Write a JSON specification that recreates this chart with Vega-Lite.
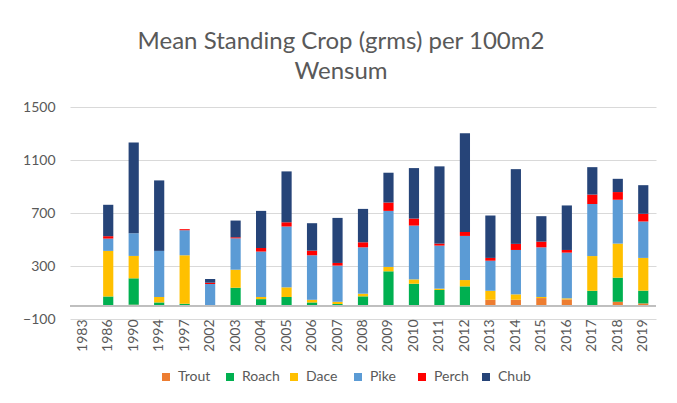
{
  "$schema": "https://vega.github.io/schema/vega-lite/v6.json",
  "width": 586,
  "height": 212,
  "autosize": {"type": "none"},
  "padding": {"left": 70, "top": 107, "right": 21, "bottom": 84},
  "background": "white",
  "config": {
    "view": {"stroke": null},
    "font": "Lato",
    "axis": {"labelColor": "#595959", "labelFont": "Lato", "labelFontSize": 14, "domain": false, "ticks": false, "tickSize": 0, "title": null, "labelOverlap": false},
    "legend": {"labelColor": "#595959", "labelFont": "Lato", "labelFontSize": 14}
  },
  "title": {
    "text": ["Mean Standing Crop (grms) per 100m2", "Wensum"],
    "anchor": "middle",
    "dx": -22,
    "offset": 16,
    "fontSize": 24,
    "font": "Lato",
    "fontWeight": "normal",
    "color": "#595959",
    "lineHeight": 30
  },
  "data": {
    "values": [
      {"year": "1986", "species": "Roach", "value": 70},
      {"year": "1986", "species": "Dace", "value": 344},
      {"year": "1986", "species": "Pike", "value": 93},
      {"year": "1986", "species": "Perch", "value": 18},
      {"year": "1986", "species": "Chub", "value": 237},
      {"year": "1990", "species": "Trout", "value": 8},
      {"year": "1990", "species": "Roach", "value": 199},
      {"year": "1990", "species": "Dace", "value": 169},
      {"year": "1990", "species": "Pike", "value": 171},
      {"year": "1990", "species": "Chub", "value": 686},
      {"year": "1994", "species": "Roach", "value": 25},
      {"year": "1994", "species": "Dace", "value": 41},
      {"year": "1994", "species": "Pike", "value": 348},
      {"year": "1994", "species": "Chub", "value": 532},
      {"year": "1997", "species": "Roach", "value": 15},
      {"year": "1997", "species": "Dace", "value": 366},
      {"year": "1997", "species": "Pike", "value": 189},
      {"year": "1997", "species": "Perch", "value": 8},
      {"year": "2002", "species": "Pike", "value": 164},
      {"year": "2002", "species": "Perch", "value": 10},
      {"year": "2002", "species": "Chub", "value": 28},
      {"year": "2003", "species": "Roach", "value": 136},
      {"year": "2003", "species": "Dace", "value": 136},
      {"year": "2003", "species": "Pike", "value": 237},
      {"year": "2003", "species": "Perch", "value": 8},
      {"year": "2003", "species": "Chub", "value": 126},
      {"year": "2004", "species": "Roach", "value": 50},
      {"year": "2004", "species": "Dace", "value": 16},
      {"year": "2004", "species": "Pike", "value": 343},
      {"year": "2004", "species": "Perch", "value": 27},
      {"year": "2004", "species": "Chub", "value": 280},
      {"year": "2005", "species": "Roach", "value": 66},
      {"year": "2005", "species": "Dace", "value": 73},
      {"year": "2005", "species": "Pike", "value": 459},
      {"year": "2005", "species": "Perch", "value": 32},
      {"year": "2005", "species": "Chub", "value": 384},
      {"year": "2006", "species": "Roach", "value": 25},
      {"year": "2006", "species": "Dace", "value": 20},
      {"year": "2006", "species": "Pike", "value": 336},
      {"year": "2006", "species": "Perch", "value": 35},
      {"year": "2006", "species": "Chub", "value": 207},
      {"year": "2007", "species": "Roach", "value": 13},
      {"year": "2007", "species": "Dace", "value": 17},
      {"year": "2007", "species": "Pike", "value": 273},
      {"year": "2007", "species": "Perch", "value": 20},
      {"year": "2007", "species": "Chub", "value": 340},
      {"year": "2008", "species": "Roach", "value": 71},
      {"year": "2008", "species": "Dace", "value": 20},
      {"year": "2008", "species": "Pike", "value": 350},
      {"year": "2008", "species": "Perch", "value": 38},
      {"year": "2008", "species": "Chub", "value": 252},
      {"year": "2009", "species": "Roach", "value": 260},
      {"year": "2009", "species": "Dace", "value": 33},
      {"year": "2009", "species": "Pike", "value": 423},
      {"year": "2009", "species": "Perch", "value": 63},
      {"year": "2009", "species": "Chub", "value": 225},
      {"year": "2010", "species": "Roach", "value": 166},
      {"year": "2010", "species": "Dace", "value": 33},
      {"year": "2010", "species": "Pike", "value": 406},
      {"year": "2010", "species": "Perch", "value": 53},
      {"year": "2010", "species": "Chub", "value": 381},
      {"year": "2011", "species": "Roach", "value": 119},
      {"year": "2011", "species": "Dace", "value": 10},
      {"year": "2011", "species": "Pike", "value": 325},
      {"year": "2011", "species": "Perch", "value": 15},
      {"year": "2011", "species": "Chub", "value": 583},
      {"year": "2012", "species": "Roach", "value": 146},
      {"year": "2012", "species": "Dace", "value": 48},
      {"year": "2012", "species": "Pike", "value": 333},
      {"year": "2012", "species": "Perch", "value": 30},
      {"year": "2012", "species": "Chub", "value": 744},
      {"year": "2013", "species": "Trout", "value": 45},
      {"year": "2013", "species": "Dace", "value": 68},
      {"year": "2013", "species": "Pike", "value": 227},
      {"year": "2013", "species": "Perch", "value": 21},
      {"year": "2013", "species": "Chub", "value": 320},
      {"year": "2014", "species": "Trout", "value": 45},
      {"year": "2014", "species": "Dace", "value": 41},
      {"year": "2014", "species": "Pike", "value": 335},
      {"year": "2014", "species": "Perch", "value": 46},
      {"year": "2014", "species": "Chub", "value": 564},
      {"year": "2015", "species": "Trout", "value": 58},
      {"year": "2015", "species": "Dace", "value": 8},
      {"year": "2015", "species": "Pike", "value": 375},
      {"year": "2015", "species": "Perch", "value": 43},
      {"year": "2015", "species": "Chub", "value": 192},
      {"year": "2016", "species": "Trout", "value": 48},
      {"year": "2016", "species": "Dace", "value": 8},
      {"year": "2016", "species": "Pike", "value": 345},
      {"year": "2016", "species": "Perch", "value": 20},
      {"year": "2016", "species": "Chub", "value": 336},
      {"year": "2017", "species": "Roach", "value": 113},
      {"year": "2017", "species": "Dace", "value": 262},
      {"year": "2017", "species": "Pike", "value": 393},
      {"year": "2017", "species": "Perch", "value": 71},
      {"year": "2017", "species": "Chub", "value": 207},
      {"year": "2018", "species": "Trout", "value": 30},
      {"year": "2018", "species": "Roach", "value": 182},
      {"year": "2018", "species": "Dace", "value": 257},
      {"year": "2018", "species": "Pike", "value": 331},
      {"year": "2018", "species": "Perch", "value": 58},
      {"year": "2018", "species": "Chub", "value": 100},
      {"year": "2019", "species": "Trout", "value": 18},
      {"year": "2019", "species": "Roach", "value": 96},
      {"year": "2019", "species": "Dace", "value": 247},
      {"year": "2019", "species": "Pike", "value": 275},
      {"year": "2019", "species": "Perch", "value": 58},
      {"year": "2019", "species": "Chub", "value": 216}
    ]
  },
  "layer": [
    {
      "transform": [
        {"calculate": "indexof(['Trout','Roach','Dace','Pike','Perch','Chub'], datum.species)", "as": "stackOrder"}
      ],
      "mark": {"type": "bar"},
      "encoding": {
        "x": {
          "field": "year",
          "type": "nominal",
          "scale": {
            "domain": ["1983", "1986", "1990", "1994", "1997", "2002", "2003", "2004", "2005", "2006", "2007", "2008", "2009", "2010", "2011", "2012", "2013", "2014", "2015", "2016", "2017", "2018", "2019"],
            "paddingInner": 0.6,
            "paddingOuter": 0.3
          },
          "axis": {"labelAngle": -90, "labelPadding": 0, "labelBaseline": "middle", "labelAlign": "right", "grid": false}
        },
        "y": {
          "field": "value",
          "type": "quantitative",
          "stack": "zero",
          "scale": {"domain": [-100, 1500], "nice": false, "zero": false},
          "axis": {"values": [-100, 100, 300, 500, 700, 900, 1100, 1300, 1500], "format": "d", "grid": true, "gridColor": "#d9d9d9", "gridWidth": 1, "labelPadding": 15}
        },
        "color": {
          "field": "species",
          "type": "nominal",
          "scale": {
            "domain": ["Trout", "Roach", "Dace", "Pike", "Perch", "Chub"],
            "range": ["#ED7D31", "#00B050", "#FFC000", "#5B9BD5", "#FF0000", "#264478"]
          },
          "legend": {
            "title": null,
            "orient": "none",
            "direction": "horizontal",
            "columns": 6,
            "gridAlign": "all",
            "legendX": 89,
            "legendY": 263,
            "symbolType": "square",
            "symbolSize": 64,
            "symbolStrokeWidth": 0,
            "labelOffset": 5,
            "columnPadding": 7
          }
        },
        "order": {"field": "stackOrder", "type": "quantitative", "sort": "ascending"}
      }
    },
    {
      "mark": {"type": "rule", "color": "#bfbfbf", "strokeWidth": 1},
      "encoding": {"y": {"datum": 0}}
    }
  ]
}
